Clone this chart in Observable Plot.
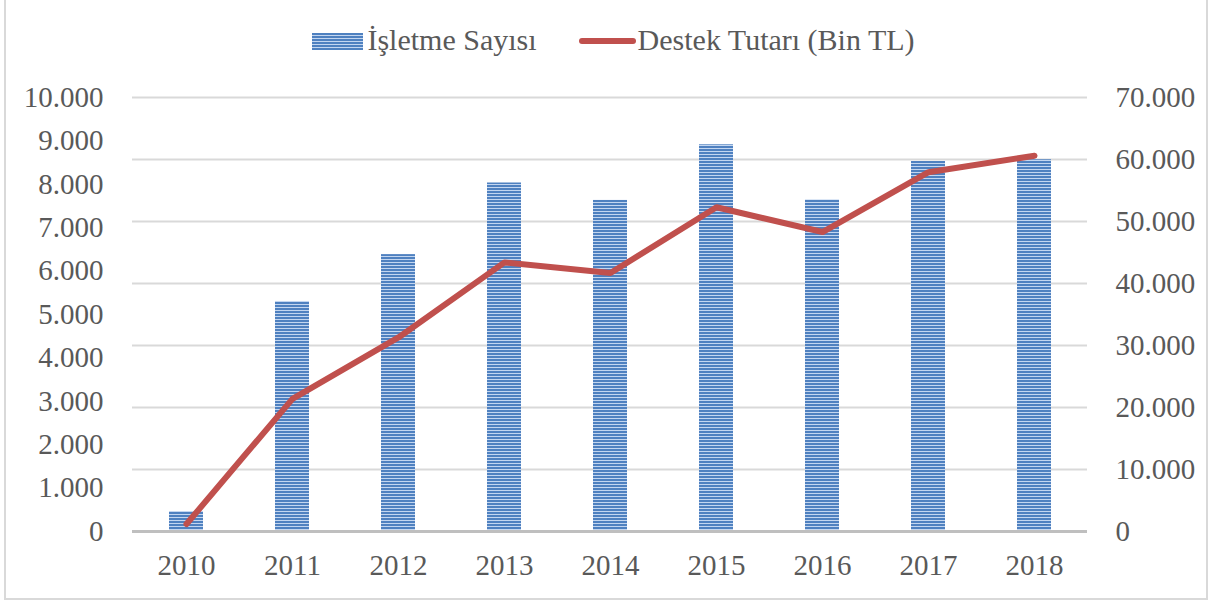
<!DOCTYPE html>
<html>
<head>
<meta charset="utf-8">
<script src="https://cdn.jsdelivr.net/npm/d3@7"></script>
<script src="https://cdn.jsdelivr.net/npm/@observablehq/plot@0.6"></script>
<style>
  html, body { margin: 0; padding: 0; background: #fff; }
  #wrap { position: relative; width: 1215px; height: 605px; overflow: hidden; font-family: "Liberation Serif", "DejaVu Serif", serif; }
  #frame { position: absolute; left: 4px; top: -4px; width: 1204px; height: 604px; border: 2px solid #d9d9d9; box-sizing: border-box; pointer-events: none; }
  #legend { position: absolute; left: 0; top: 0; width: 1215px; height: 80px; display: flex; justify-content: center; align-items: center; color: #595959; font-size: 30px; padding-left: 12px; box-sizing: border-box; }
  .item { display: flex; align-items: center; }
  .sw-bar { width: 51px; height: 17px; background: repeating-linear-gradient(to bottom, #4f81c0 0px, #4f81c0 2px, #c3d6f0 2px, #c3d6f0 3px); margin-right: 4px; margin-top: 2px; }
  .sw-line { width: 57px; height: 6px; background: #c0504d; border-radius: 3px; margin-right: 2px; margin-top: 2px; }
  #chart { position: absolute; left: 0; top: 80px; }
</style>
</head>
<body>
<div id="wrap">
  <div id="legend">
    <div class="item" style="margin-right:42px"><div class="sw-bar"></div><span>İşletme Sayısı</span></div>
    <div class="item"><div class="sw-line"></div><span>Destek Tutarı (Bin TL)</span></div>
  </div>
  <div id="chart"></div>
  <div id="frame"></div>
</div>
<script>
const years = ["2010","2011","2012","2013","2014","2015","2016","2017","2018"];
const isletmeSayisi = [460, 5300, 6380, 8030, 7630, 8910, 7640, 8525, 8565];
const destekTutari = [1200, 21400, 31300, 43400, 41700, 52300, 48300, 57950, 60600];
const leftTicks = [0,1000,2000,3000,4000,5000,6000,7000,8000,9000,10000];
const rightTicks = [0,10000,20000,30000,40000,50000,60000,70000];
const ratio = 7; // right axis max / left axis max

const fmt = d3.formatLocale({decimal: ",", thousands: ".", grouping: [3], currency: ["", ""]}).format(",d");
const data = years.map((y, i) => ({year: y, isletme: isletmeSayisi[i], destek: destekTutari[i]}));

const chart = Plot.plot({
  width: 1215,
  height: 525,
  marginTop: 17,
  marginBottom: 74,
  marginLeft: 132,
  marginRight: 128,
  style: {fontFamily: "'Liberation Serif', 'DejaVu Serif', serif", fontSize: "29px", color: "#595959", background: "transparent"},
  x: {domain: years, paddingInner: 0.68, paddingOuter: 0.34, label: null},
  y: {domain: [0, 10000], label: null},
  marks: [
    Plot.gridY(rightTicks.map(v => v / ratio), {stroke: "#d9d9d9", strokeOpacity: 1, strokeWidth: 2}),
    Plot.barY(data, {x: "year", y: "isletme", fill: "url(#stripes)"}),
    Plot.ruleY([0], {stroke: "#bfbfbf", strokeWidth: 3}),
    Plot.lineY(data, {x: "year", y: d => d.destek / ratio, stroke: "#c0504d", strokeWidth: 6, strokeLinecap: "round", strokeLinejoin: "round"}),
    Plot.axisY(leftTicks, {anchor: "left", tickSize: 0, tickPadding: 29, tickFormat: fmt, label: null, fill: "#595959"}),
    Plot.axisY(rightTicks.map(v => v / ratio), {anchor: "right", tickSize: 0, tickPadding: 28, tickFormat: v => fmt(Math.round(v * ratio)), label: null, fill: "#595959"}),
    Plot.axisX({anchor: "bottom", tickSize: 0, tickPadding: 23, label: null, fill: "#595959"})
  ]
});

// pattern definition for striped bars
const ns = "http://www.w3.org/2000/svg";
const defs = document.createElementNS(ns, "defs");
const pat = document.createElementNS(ns, "pattern");
pat.setAttribute("id", "stripes");
pat.setAttribute("patternUnits", "userSpaceOnUse");
pat.setAttribute("width", "8");
pat.setAttribute("height", "3");
const r1 = document.createElementNS(ns, "rect");
r1.setAttribute("width", "8"); r1.setAttribute("height", "3"); r1.setAttribute("fill", "#c3d6f0");
const r2 = document.createElementNS(ns, "rect");
r2.setAttribute("width", "8"); r2.setAttribute("height", "2"); r2.setAttribute("fill", "#4f81c0");
pat.appendChild(r1); pat.appendChild(r2);
defs.appendChild(pat);
chart.insertBefore(defs, chart.firstChild);

document.getElementById("chart").appendChild(chart);
</script>
</body>
</html>
